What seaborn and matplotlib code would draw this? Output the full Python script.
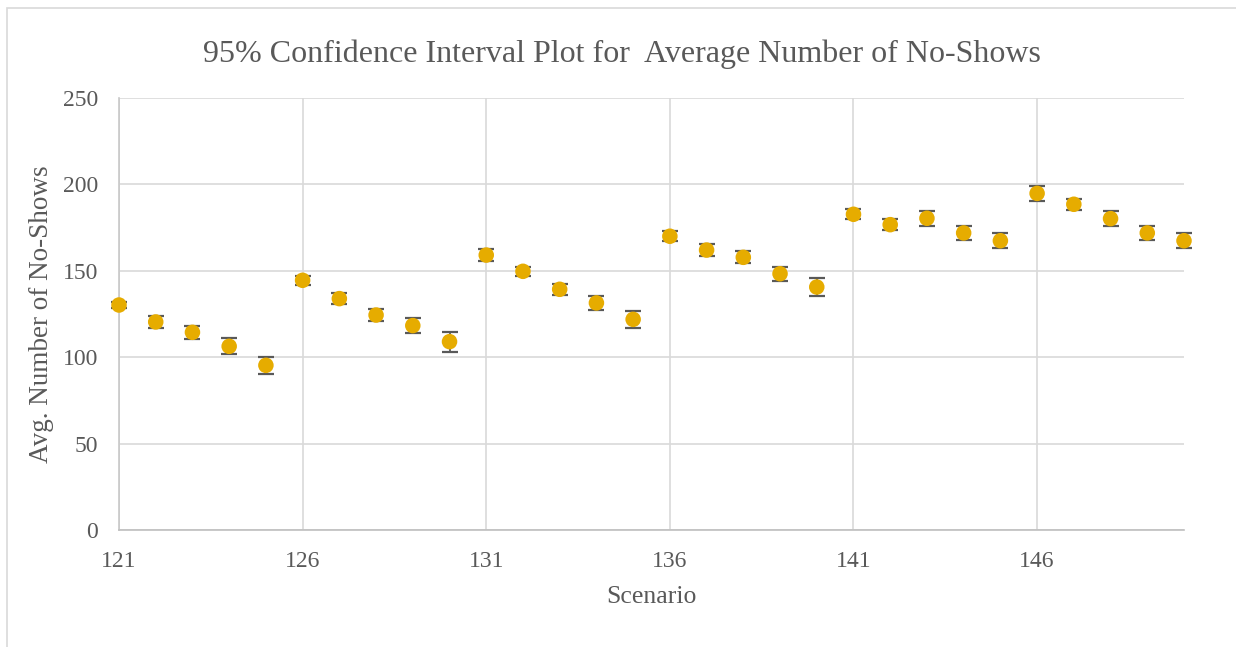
import matplotlib
matplotlib.use("Agg")
import matplotlib.pyplot as plt
import seaborn as sns
import pandas as pd
from matplotlib.patches import Rectangle

scenarios = list(range(121, 151))
avg_no_shows = [130.2, 120.4, 114.4, 106.3, 95.3,
                144.5, 133.9, 124.4, 118.3, 109.0,
                159.1, 149.7, 139.3, 131.4, 121.9,
                170.0, 162.0, 157.8, 148.3, 140.6,
                182.7, 176.7, 180.4, 171.9, 167.4,
                194.8, 188.5, 180.2, 171.9, 167.4]
ci_half = [1.7, 3.5, 3.8, 4.7, 5.0,
           2.6, 3.0, 3.3, 4.3, 5.8,
           3.7, 2.7, 3.1, 4.3, 4.8,
           2.9, 3.4, 3.4, 4.0, 5.0,
           3.0, 3.2, 4.2, 4.2, 4.2,
           4.2, 3.1, 4.3, 4.2, 4.2]
x_ticks = [121, 126, 131, 136, 141, 146]
y_ticks = [0, 50, 100, 150, 200, 250]

df = pd.DataFrame({"Scenario": scenarios, "Avg": avg_no_shows, "CI": ci_half})

sns.set_theme(style="white")
plt.rcParams['font.family'] = ['Liberation Serif', 'DejaVu Serif']

fig = plt.figure(figsize=(12.36, 6.47), dpi=100)
ax = fig.add_axes([119/1236, 1-530/647, (1184-119)/1236, (530-98)/647])

# outer chart border
fig.patches.append(Rectangle((7/1236, -0.01), 1.01, (647-8)/647 + 0.01,
                             transform=fig.transFigure, fill=False,
                             edgecolor="#D9D9D9", linewidth=1.2))

ax.errorbar(df["Scenario"], df["Avg"], yerr=df["CI"], fmt="none",
            ecolor="#595959", elinewidth=1.3, capsize=6, capthick=1.6,
            zorder=2, clip_on=False)
sns.scatterplot(data=df, x="Scenario", y="Avg", ax=ax, s=125, color="#E6AC00",
                edgecolor="none", zorder=3, legend=False, clip_on=False)

ax.set_xlim(121, 150)
ax.set_ylim(0, 250)
ax.set_xticks(x_ticks)
ax.set_yticks(y_ticks)
ax.grid(True, color="#D9D9D9", linewidth=1.2)
ax.set_axisbelow(True)
for s in ["top", "right"]:
    ax.spines[s].set_visible(False)
ax.spines["left"].set_color("#C8C8C8")
ax.spines["left"].set_linewidth(1.2)
ax.spines["bottom"].set_color("#BFBFBF")
ax.spines["bottom"].set_linewidth(1.2)
ax.tick_params(axis="y", length=0, labelsize=17, colors="#595959", pad=15)
ax.tick_params(axis="x", length=0, labelsize=17, colors="#595959", pad=15)
for lab in ax.get_xticklabels() + ax.get_yticklabels():
    lab.set_color("#595959")

ax.set_xlabel("Scenario", fontsize=18.5, color="#595959", labelpad=10)
ax.set_ylabel("Avg. Number of No-Shows", fontsize=19.5, color="#595959", labelpad=6)
fig.text(622/1236, 1-54/647, "95% Confidence Interval Plot for  Average Number of No-Shows",
         ha="center", va="center", fontsize=23, color="#595959")

fig.savefig("out.png", dpi=100)
